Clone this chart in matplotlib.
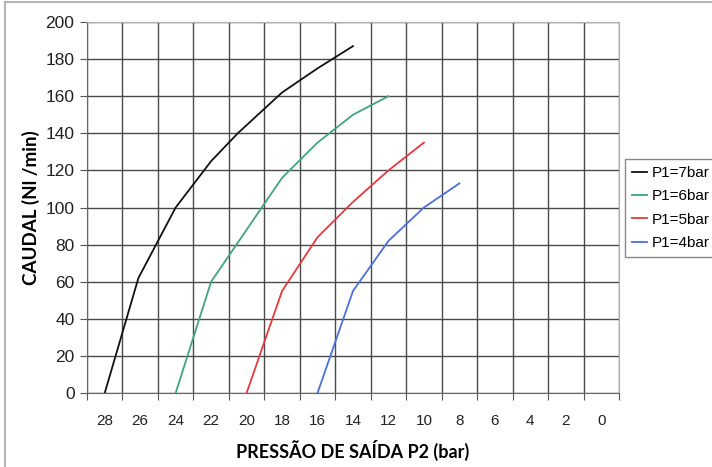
import numpy as np
from matplotlib import pyplot as plt
from matplotlib.patches import Rectangle

# readings: outlet pressure P2 (bar) vs flow (Nl/min)
p2_7bar = [28, 26.1, 24, 22, 20.5, 18, 16, 14]
q_7bar = [0, 62, 100, 125, 140, 162, 175, 187]
p2_6bar = [24, 22, 20, 18, 16, 14, 12]
q_6bar = [0, 60, 88, 116, 135, 150, 160]
p2_5bar = [20, 18, 16, 14, 12, 10]
q_5bar = [0, 55, 84, 103, 120, 135]
p2_4bar = [16, 14, 12, 10, 8]
q_4bar = [0, 55, 82, 100, 113]

series_labels = ['P1=7bar', 'P1=6bar', 'P1=5bar', 'P1=4bar']
series_colors = ['#111111', '#3fa57d', '#e8383c', '#4a70e0']
x_ticklabels = [str(v) for v in range(28, -1, -2)]
y_ticks = list(range(0, 201, 20))

fig = plt.figure(figsize=(7.12, 4.67), dpi=100)
ax = fig.add_axes([87/712, 1 - 393/467, (619 - 87)/712, (393 - 22)/467])

curves = [(p2_7bar, q_7bar), (p2_6bar, q_6bar), (p2_5bar, q_5bar), (p2_4bar, q_4bar)]
for (xs, ys), lab, col in zip(curves, series_labels, series_colors):
    ax.plot(xs, ys, color=col, lw=1.3, label=lab)

ax.set_xlim(29, -1)
ax.set_ylim(0, 200)

# grid lines sit between the category labels (excel style)
ax.set_xticks(np.arange(29, -2, -2))
ax.set_xticklabels([])
ax.set_xticks(np.arange(28, -1, -2), minor=True)
ax.set_xticklabels(x_ticklabels, minor=True, fontsize=11, family='Liberation Sans', color='#222222')
ax.tick_params(axis='x', which='major', length=5, color='#555555', direction='out')
ax.tick_params(axis='x', which='minor', length=0, pad=15)
ax.set_yticks(y_ticks)
ax.set_yticklabels([str(v) for v in y_ticks], fontsize=12.5, family='Liberation Sans', color='#222222')
ax.tick_params(axis='y', length=5, color='#555555', pad=4)

ax.grid(True, which='major', color='#4a4a4a', lw=1.0)
ax.set_axisbelow(True)
for side in ['top', 'right']:
    ax.spines[side].set_color('#b0b0b0')
for side in ['left', 'bottom']:
    ax.spines[side].set_color('#666666')

ax.set_xlabel('PRESSÃO DE SAÍDA P2 (bar)', fontsize=13, fontweight='bold', family='Lato', labelpad=9)
ax.set_ylabel('CAUDAL (Nl /min)', fontsize=13.5, fontweight='bold', family='Lato', labelpad=4)

leg = ax.legend(loc='upper left', bbox_to_anchor=(625/712, 1 - 159/467), bbox_transform=fig.transFigure,
                borderaxespad=0, prop={'family': 'Liberation Sans', 'size': 11}, handlelength=1.0,
                handletextpad=0.3, borderpad=0.45, labelspacing=0.62, fancybox=False, framealpha=1)
leg.get_frame().set_edgecolor('#888888')
leg.get_frame().set_linewidth(1.0)

# outer chart border
fig.patches.append(Rectangle((5/712, -0.05), 1.0, 1 - 2/467 + 0.05, transform=fig.transFigure,
                             fill=False, edgecolor='#b5b5b5', lw=1.5))

fig.savefig('out.png', dpi=100)
